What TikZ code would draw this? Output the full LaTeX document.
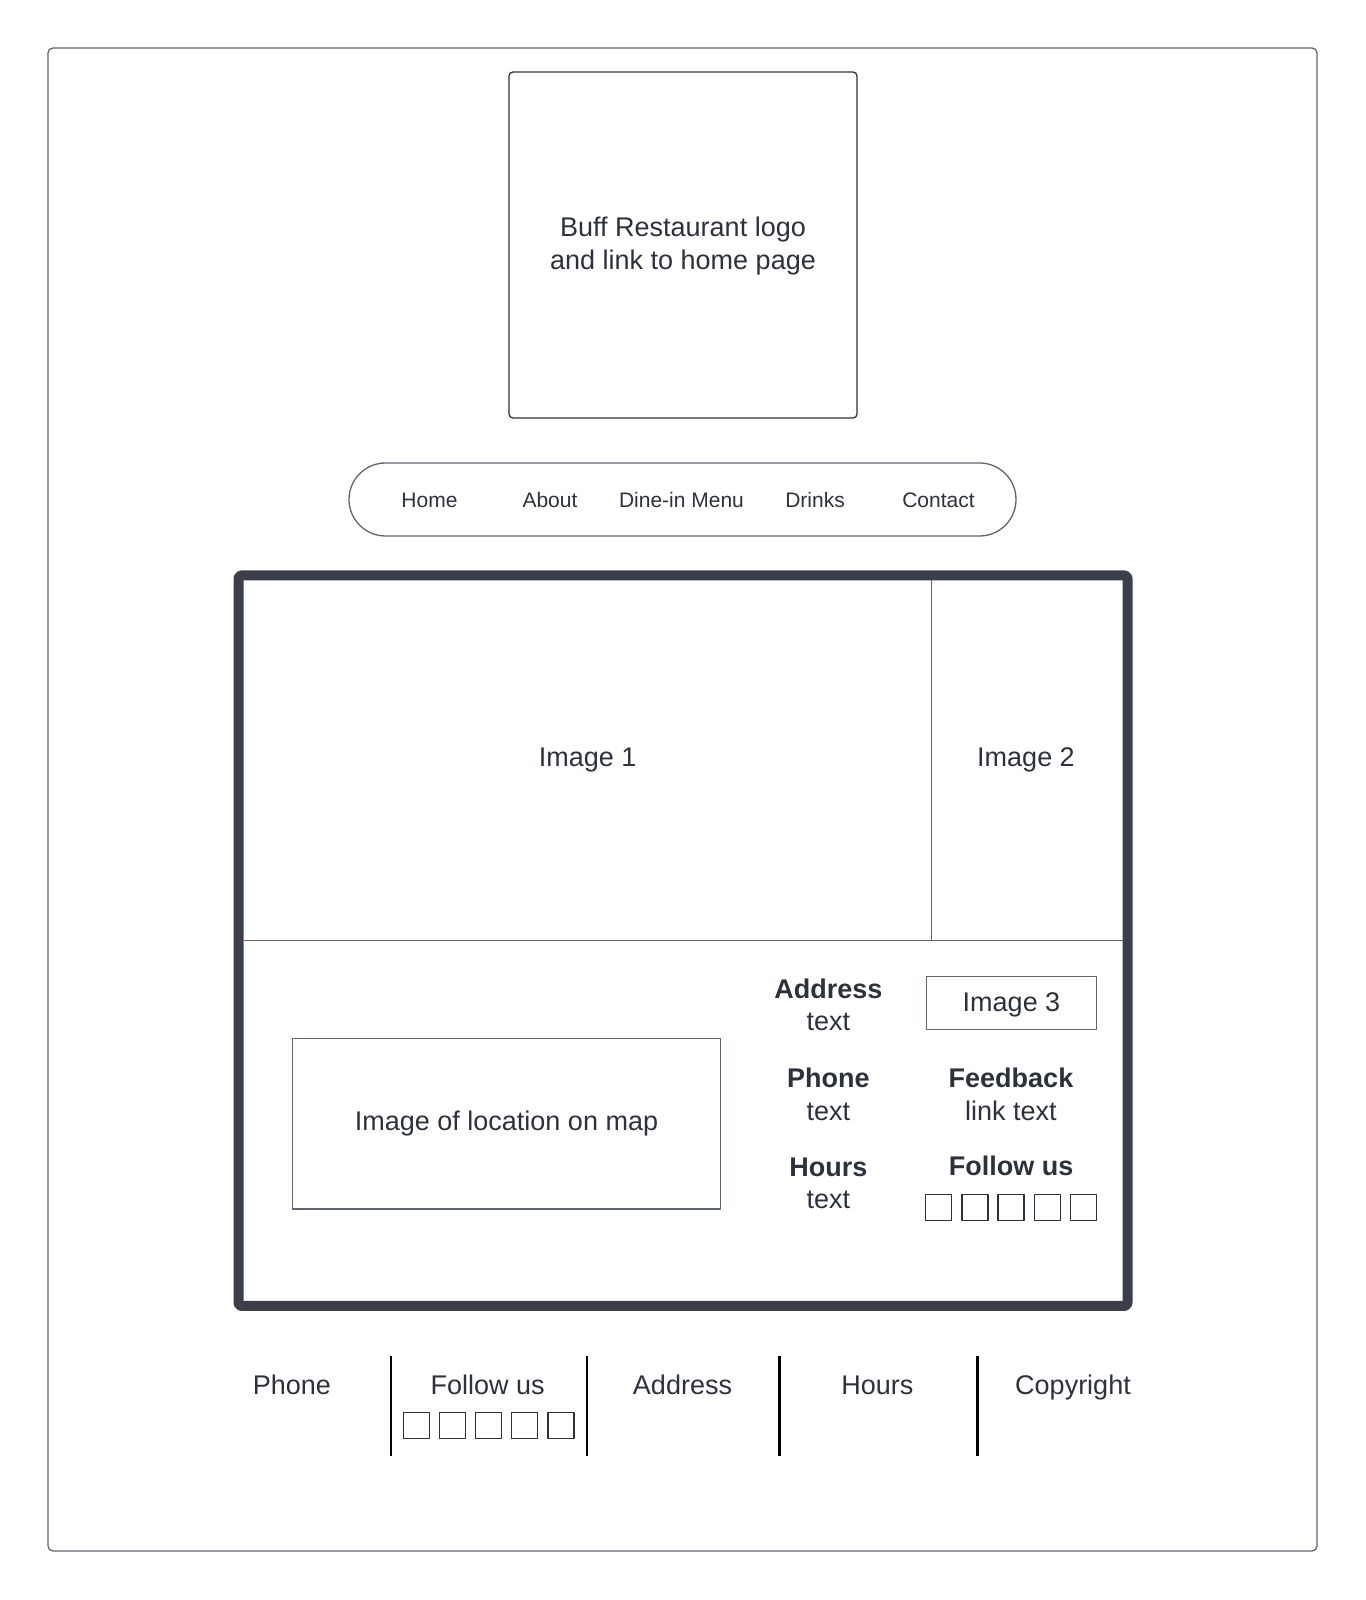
\documentclass[tikz,border=0pt]{standalone}
\usepackage{fontspec}
\setmainfont{Liberation Sans}
\definecolor{ink}{RGB}{44,50,60}
\definecolor{frame}{RGB}{96,100,110}
\definecolor{heavy}{RGB}{58,63,74}
\begin{document}
\begin{tikzpicture}[line join=round,
  txt/.style={draw=none,inner sep=0pt,text=ink,align=center,font=\fontsize{27bp}{32.4bp}\selectfont},
  one/.style={txt,text height=19.5bp,text depth=0bp},
  navtxt/.style={txt,font=\fontsize{21bp}{25bp}\selectfont,text height=15bp,text depth=0bp},
  box/.style={draw=frame,line width=1.3bp,inner sep=0pt},
  sq/.style={draw=ink,line width=1.3bp,minimum size=26bp,inner sep=0pt},
  sep/.style={draw=black,line width=2.2bp}]
\useasboundingbox (0bp,0bp) rectangle (1366bp,1600bp);
%%
\node (page) at (682.5bp,800.5bp) [box,rounded corners=5bp,minimum width=1269bp,minimum height=1503bp] {};
\node (logo) at (683bp,1355bp) [box,draw=ink,rounded corners=4bp,minimum width=348bp,minimum height=346bp] {};
\node (logotxt) at (683bp,1354bp) [txt] {Buff Restaurant logo\\and link to home page};
%% navigation
\node (nav) at (682.5bp,1100.5bp) [box,rounded corners=36.5bp,minimum width=667bp,minimum height=73bp] {};
\node (home) at (429.5bp,1100bp) [navtxt] {Home};
\node (about) at (550bp,1100bp) [navtxt] {About};
\node (menu) at (681.5bp,1100bp) [navtxt] {Dine-in Menu};
\node (drinks) at (815bp,1100bp) [navtxt] {Drinks};
\node (contact) at (938.5bp,1100bp) [navtxt] {Contact};
%% main block
\node (main) at (683bp,659.3bp) [draw=heavy,line width=10bp,rounded corners=3bp,minimum width=889bp,minimum height=730.5bp,inner sep=0pt,outer sep=0pt] {};
\coordinate (vtop) at (main.north -| 931.5bp,0);
\coordinate (vbot) at (931.5bp,659.3bp);
\draw [box,shorten <=5bp,shorten >=5bp] (main.west) -- (main.east);
\draw [box,shorten <=5bp] (vtop) -- (vbot);
\node (img1) at (587.6bp,843bp) [one] {Image 1};
\node (img2) at (1026bp,843bp) [one] {Image 2};
\node (map) at (506.5bp,476.2bp) [box,minimum width=427.5bp,minimum height=170.4bp] {};
\node (maptxt) at (506.5bp,479bp) [one] {Image of location on map};
\node (img3) at (1011.5bp,597.1bp) [box,minimum width=170.3bp,minimum height=53.1bp] {};
\node (img3txt) at (1011.5bp,598bp) [one] {Image 3};
\node (addr) at (828.4bp,595.2bp) [txt] {\textbf{Address}\\text};
\node (phone) at (828.4bp,505.5bp) [txt] {\textbf{Phone}\\text};
\node (hours) at (828.4bp,416.5bp) [txt] {\textbf{Hours}\\text};
\node (feed) at (1011bp,505.5bp) [txt] {\textbf{Feedback}\\link text};
\node (follow) at (1011bp,434bp) [one] {\textbf{Follow us}};
\foreach \i in {0,...,4}
  \node (soc\i) at (938.7bp+36.2bp*\i,392.6bp) [sq] {};
%% footer
\node (fphone) at (291.8bp,215.6bp) [one] {Phone};
\node (ffollow) at (487.6bp,215.6bp) [one] {Follow us};
\node (faddr) at (682.5bp,215.6bp) [one] {Address};
\node (fhours) at (877.4bp,215.6bp) [one] {Hours};
\node (fcopy) at (1073bp,215.6bp) [one] {Copyright};
\foreach \i in {0,...,4}
  \node (fsoc\i) at (416.2bp+36.2bp*\i,174.2bp) [sq] {};
\foreach \x [count=\k] in {390.7,586.6,779.4,977.4} {
  \coordinate (s\k a) at (\x bp,244.2bp);
  \coordinate (s\k b) at (\x bp,144.2bp);
  \draw [sep] (s\k a) -- (s\k b);
}
%
\end{tikzpicture}
\end{document}
